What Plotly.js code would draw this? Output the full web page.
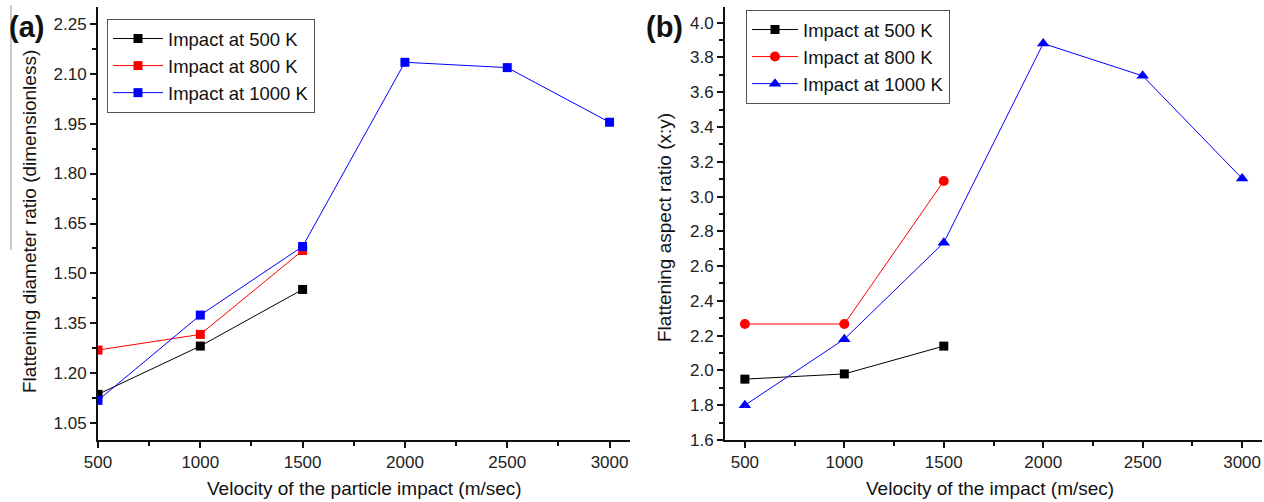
<!DOCTYPE html>
<html>
<head>
<meta charset="utf-8">
<script src="https://cdn.plot.ly/plotly-3.0.1.min.js"></script>
<style>
html,body{margin:0;padding:0;background:#fff;}
#chart{width:1264px;height:502px;}
</style>
</head>
<body>
<div id="chart"></div>
<script>
// ---- data ----
var velocityA = [500, 1000, 1500, 2000, 2500, 3000];
var velocityShort = [500, 1000, 1500];
var seriesNames = ["Impact at 500 K", "Impact at 800 K", "Impact at 1000 K"];

// (a) Flattening diameter ratio
var diam500 = [1.137, 1.282, 1.452];
var diam800 = [1.270, 1.317, 1.569];
var diam1000 = [1.119, 1.375, 1.581, 2.134, 2.118, 1.954];

// (b) Flattening aspect ratio
var aspect500 = [1.95, 1.98, 2.14];
var aspect800 = [2.267, 2.267, 3.089];
var aspect1000 = [1.80, 2.18, 2.735, 3.88, 3.694, 3.104];

var W = 1264, H = 502;
var FONT = "Arial, 'Liberation Sans', sans-serif";
var colors = ["#000000", "#ff0000", "#0000ff"];

function tr(x, y, name, color, symbol, size, xa, ya, leg) {
  return {
    x: x, y: y, name: name, type: "scatter", mode: "lines+markers",
    line: {color: color, width: 1},
    marker: {color: color, symbol: symbol, size: size, line: {width: 0}},
    xaxis: xa, yaxis: ya, legend: leg, cliponaxis: true
  };
}

var data = [
  tr(velocityShort, diam500, seriesNames[0], colors[0], "square", 9, "x", "y", "legend"),
  tr(velocityShort, diam800, seriesNames[1], colors[1], "square", 9, "x", "y", "legend"),
  tr(velocityA, diam1000, seriesNames[2], colors[2], "square", 9, "x", "y", "legend"),
  tr(velocityShort, aspect500, seriesNames[0], colors[0], "square", 9, "x2", "y2", "legend2"),
  tr(velocityShort, aspect800, seriesNames[1], colors[1], "circle", 10, "x2", "y2", "legend2"),
  tr(velocityA, aspect1000, seriesNames[2], colors[2], "triangle-up", 11, "x2", "y2", "legend2")
];

function axisBase(extra) {
  var a = {
    showgrid: false, zeroline: false, showline: true, linecolor: "#111", linewidth: 2,
    ticks: "outside", ticklen: 6, tickwidth: 2, tickcolor: "#111",
    tickfont: {family: FONT, size: 17, color: "#222"},
    automargin: false, fixedrange: true
  };
  for (var k in extra) a[k] = extra[k];
  return a;
}

var yTop = 1 - 7 / H, yBot = 1 - 440 / H;

var legendFont = {family: FONT, size: 18.5, color: "#111"};
var titleFont = {family: FONT, size: 19, color: "#111"};

var layout = {
  width: W, height: H,
  margin: {l: 0, r: 0, t: 0, b: 0},
  paper_bgcolor: "#fff", plot_bgcolor: "#fff",
  font: {family: FONT, color: "#111"},
  showlegend: true,
  xaxis: axisBase({domain: [98 / W, 630 / W], range: [500, 3100], tick0: 500, dtick: 500,
    minor: {dtick: 250, ticks: "outside", ticklen: 4, tickwidth: 2, tickcolor: "#111"}, anchor: "y"}),
  yaxis: axisBase({domain: [yBot, yTop], range: [1.0, 2.30], tick0: 1.05, dtick: 0.15, tickformat: ".2f",
    minor: {dtick: 0.075, ticks: "outside", ticklen: 4, tickwidth: 2, tickcolor: "#111"}, anchor: "x"}),
  xaxis2: axisBase({domain: [725 / W, 1262 / W], range: [400, 3100], tick0: 500, dtick: 500,
    minor: {dtick: 250, ticks: "outside", ticklen: 4, tickwidth: 2, tickcolor: "#111"}, anchor: "y2"}),
  yaxis2: axisBase({domain: [yBot, yTop], range: [1.6, 4.09], tick0: 1.6, dtick: 0.2, tickformat: ".1f",
    minor: {dtick: 0.1, ticks: "outside", ticklen: 4, tickwidth: 2, tickcolor: "#111"}, anchor: "x2"}),
  legend: {x: 107 / W, y: 1 - 19 / H, xanchor: "left", yanchor: "top",
    bordercolor: "#555", borderwidth: 1, bgcolor: "rgba(255,255,255,1)", font: legendFont,
    tracegroupgap: 0, itemwidth: 50},
  legend2: {x: 746 / W, y: 1 - 10 / H, xanchor: "left", yanchor: "top",
    bordercolor: "#555", borderwidth: 1, bgcolor: "rgba(255,255,255,1)", font: legendFont,
    tracegroupgap: 0, itemwidth: 46},
  annotations: [
    {text: "<b>(a)</b>", x: 7 / W, y: 1 - 27 / H, xref: "paper", yref: "paper", xanchor: "left", yanchor: "middle",
      showarrow: false, font: {family: FONT, size: 29, color: "#111"}},
    {text: "<b>(b)</b>", x: 644 / W, y: 1 - 27 / H, xref: "paper", yref: "paper", xanchor: "left", yanchor: "middle",
      showarrow: false, font: {family: FONT, size: 29, color: "#111"}},
    {text: "Velocity of the particle impact (m/sec)", x: 364 / W, y: 1 - 488 / H, xref: "paper", yref: "paper",
      xanchor: "center", yanchor: "middle", showarrow: false, font: titleFont},
    {text: "Velocity of the impact (m/sec)", x: 990 / W, y: 1 - 488 / H, xref: "paper", yref: "paper",
      xanchor: "center", yanchor: "middle", showarrow: false, font: titleFont},
    {text: "Flattening diameter ratio (dimensionless)", x: 29 / W, y: 1 - 222 / H, xref: "paper", yref: "paper",
      xanchor: "center", yanchor: "middle", textangle: -90, showarrow: false, font: titleFont},
    {text: "Flattening aspect ratio (x:y)", x: 664 / W, y: 1 - 228 / H, xref: "paper", yref: "paper",
      xanchor: "center", yanchor: "middle", textangle: -90, showarrow: false, font: titleFont}
  ],
  shapes: [
    {type: "line", xref: "paper", yref: "paper", x0: 11 / W, x1: 11 / W, y0: 1 - 5 / H, y1: 1 - 250 / H,
      line: {color: "#999", width: 1}}
  ]
};

Plotly.newPlot("chart", data, layout, {displayModeBar: false, staticPlot: true});
</script>
</body>
</html>
